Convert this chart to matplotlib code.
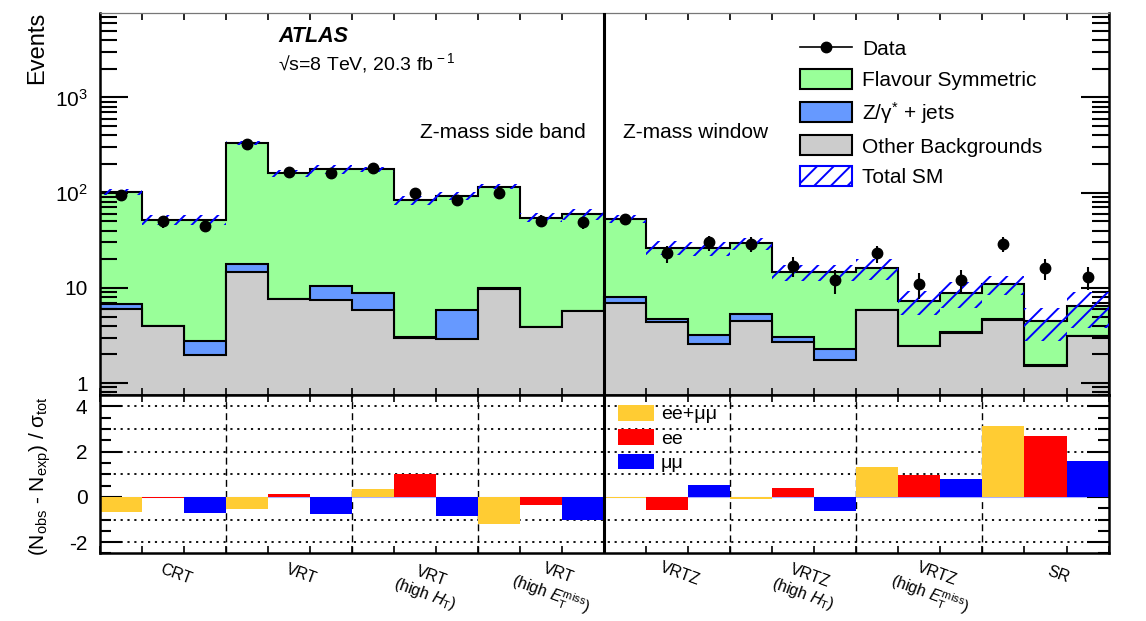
import numpy as np
import matplotlib
matplotlib.use('Agg')
import matplotlib.pyplot as plt
from matplotlib.patches import Patch
from matplotlib.lines import Line2D
from matplotlib.ticker import LogLocator, NullFormatter, MultipleLocator, FixedLocator
import matplotlib.transforms as mtransforms

plt.rcParams['font.family'] = ['Liberation Sans', 'DejaVu Sans']
plt.rcParams['mathtext.fontset'] = 'custom'
plt.rcParams['mathtext.rm'] = 'Liberation Sans'
plt.rcParams['mathtext.it'] = 'Liberation Sans:italic'
plt.rcParams['mathtext.bf'] = 'Liberation Sans:bold'
plt.rcParams['axes.unicode_minus'] = False
plt.rcParams['hatch.linewidth'] = 1.4
plt.rcParams['hatch.color'] = 'blue'

# regions, each split into ee+mumu / ee / mumu
regions = ['CRT', 'VRT', 'VRT\n(high $H_{\\mathrm{T}}$)', 'VRT\n(high $E_{\\mathrm{T}}^{\\mathrm{miss}}$)',
           'VRTZ', 'VRTZ\n(high $H_{\\mathrm{T}}$)', 'VRTZ\n(high $E_{\\mathrm{T}}^{\\mathrm{miss}}$)', 'SR']
channels = ['ee+μμ', 'ee', 'μμ']

data_obs = [95, 50, 45, 324, 164, 160, 182, 99, 83, 100, 51, 49,
            53, 23, 30, 29, 17, 12, 23, 11, 12, 29, 16, 13]
other_bkg = [5.97, 4.0, 1.96, 14.7, 7.6, 7.4, 5.8, 3.0, 2.9, 9.8, 3.9, 5.7,
             6.95, 4.39, 2.56, 4.5, 2.7, 1.73, 5.8, 2.43, 3.36, 4.65, 1.51, 3.1]
zjets = [0.85, 0.02, 0.83, 3.3, 0.1, 3.1, 3.1, 0.05, 2.9, 0.1, 0.03, 0.05,
         1.1, 0.37, 0.64, 0.85, 0.35, 0.57, 0.05, 0.05, 0.05, 0.05, 0.05, 0.05]
flav_sym = [95.7, 47.6, 48.8, 318, 152.3, 165.5, 167.6, 80.8, 87.2, 105.8, 50.7, 54.0,
            44.9, 21.8, 22.8, 24.0, 11.65, 12.4, 10.15, 4.77, 5.45, 6.2, 2.9, 3.25]
sm_err = [7.7, 6.2, 6.2, 17, 13.6, 17.6, 10.6, 9.2, 9.3, 6.9, 6.0, 7.8,
          5.3, 4.5, 4.4, 4.4, 2.8, 2.8, 4.0, 2.0, 2.7, 2.5, 1.7, 2.6]
significance = [-0.66, -0.07, -0.70, -0.53, 0.15, -0.76, 0.37, 1.03, -0.85, -1.2, -0.37, -1.0,
                -0.06, -0.59, 0.54, -0.08, 0.41, -0.62, 1.30, 0.95, 0.78, 3.12, 2.67, 1.60]

col_fs = '#99FF99'
col_z = '#6699FF'
col_other = '#CCCCCC'
chan_colors = ['#FFCC33', '#FF0000', '#0000FF']

edges = np.arange(len(data_obs) + 1)
centers = edges[:-1] + 0.5
other = np.array(other_bkg)
z_top = other + np.array(zjets)
total = z_top + np.array(flav_sym)
err = np.array(sm_err)
obs = np.array(data_obs)

fig = plt.figure(figsize=(11.46, 6.21), dpi=100)
ax1 = fig.add_axes([0.0873, 0.3639, 0.8800, 0.6151])
ax2 = fig.add_axes([0.0873, 0.1087, 0.8800, 0.2552])

# ---- upper panel
ax1.stairs(total, edges, baseline=1e-3, fill=True, facecolor=col_fs, edgecolor='black', linewidth=1.5, zorder=1)
ax1.stairs(z_top, edges, baseline=1e-3, fill=True, facecolor=col_z, edgecolor='black', linewidth=1.5, zorder=1.1)
ax1.stairs(other, edges, baseline=1e-3, fill=True, facecolor=col_other, edgecolor='black', linewidth=1.5, zorder=1.2)
ax1.bar(centers, 2 * err, bottom=total - err, width=1.0, facecolor='none', edgecolor='blue',
        linewidth=0, hatch='//', zorder=3)
ax1.errorbar(centers, obs, yerr=np.sqrt(obs), fmt='o', color='black', ms=7.5,
             elinewidth=1.5, capsize=0, zorder=4)
ax1.axvline(12, color='black', lw=2.2, zorder=5)

ax1.set_yscale('log')
ax1.set_xlim(0, len(data_obs))
ax1.set_ylim(0.75, 7700)
ax1.yaxis.set_major_locator(FixedLocator([1, 10, 100, 1000]))
ax1.set_yticklabels(['1', '10', '$10^{2}$', '$10^{3}$'])
ax1.yaxis.set_minor_locator(LogLocator(subs=np.arange(2, 10), numticks=20))
ax1.yaxis.set_minor_formatter(NullFormatter())
ax1.set_xticks(edges)
ax1.tick_params(axis='x', which='major', direction='in', top=True, bottom=True, length=5,
                width=1.2, labelbottom=False)
ax1.tick_params(axis='y', which='major', direction='in', left=True, right=True, length=20,
                width=1.5, labelsize=15, pad=9)
ax1.tick_params(axis='y', which='minor', direction='in', left=True, right=True, length=12, width=1.5)
for s in ['left', 'right', 'bottom']:
    ax1.spines[s].set_linewidth(1.8)
ax1.spines['top'].set_linewidth(0.9)
ax1.spines['top'].set_color('#777777')

handles = [Line2D([0], [0], color='black', marker='o', ms=7.5, lw=1.2),
           Patch(facecolor=col_fs, edgecolor='black', linewidth=1.5),
           Patch(facecolor=col_z, edgecolor='black', linewidth=1.5),
           Patch(facecolor=col_other, edgecolor='black', linewidth=1.5),
           Patch(facecolor='white', edgecolor='blue', hatch='//', linewidth=1.5)]
labels = ['Data', 'Flavour Symmetric', 'Z/γ$^{*}$ + jets', 'Other Backgrounds', 'Total SM']
ax1.legend(handles, labels, loc='upper left', bbox_to_anchor=(800 / 1146, 1 - 38 / 621),
           bbox_transform=fig.transFigure, frameon=False, borderpad=0, borderaxespad=0,
           handlelength=2.5, handleheight=1.1, handletextpad=0.5, labelspacing=0.47,
           fontsize=15, numpoints=1)

fig.text(278 / 1146, 1 - 36 / 621, 'ATLAS', fontsize=15.5, fontweight='bold', fontstyle='italic', va='center')
fig.text(278 / 1146, 1 - 63 / 621, '√s=8 TeV, 20.3 fb$^{\\,-1}$', fontsize=14, va='center')
fig.text(420 / 1146, 1 - 132 / 621, 'Z-mass side band', fontsize=15, va='center')
fig.text(623 / 1146, 1 - 132 / 621, 'Z-mass window', fontsize=15, va='center')
fig.text(37 / 1146, 1 - 12 / 621, 'Events', fontsize=17, rotation=90, ha='center', va='top')

# ---- lower panel
for y in [-2, -1, 1, 2, 3, 4]:
    ax2.axhline(y, color='black', ls=(0, (1.2, 2.6)), lw=1.3, zorder=1)
for x in [3, 6, 9, 15, 18, 21]:
    ax2.axvline(x, color='black', ls=(0, (5, 3)), lw=1.0, zorder=1)
ax2.axhline(0, color='#aab0ff', lw=0.8, zorder=1)
ax2.bar(centers, significance, width=1.0, color=chan_colors * len(regions), zorder=2)
ax2.axvline(12, color='black', lw=2.2, zorder=5)

ax2.set_xlim(0, len(data_obs))
ax2.set_ylim(-2.5, 4.5)
ax2.set_yticks([-2, 0, 2, 4])
ax2.yaxis.set_minor_locator(MultipleLocator(0.5))
ax2.set_xticks(edges)
ax2.tick_params(axis='x', which='major', direction='in', top=True, bottom=True, length=5,
                width=1.2, labelbottom=False)
ax2.tick_params(axis='y', which='major', direction='in', left=True, right=True, length=16,
                width=1.5, labelsize=15, pad=9)
ax2.tick_params(axis='y', which='minor', direction='in', left=True, right=True, length=8, width=1.5)
for s in ax2.spines.values():
    s.set_linewidth(1.8)

trans = mtransforms.blended_transform_factory(ax2.transData, ax2.transAxes)
for i, name in enumerate(regions):
    yy = -0.205 if '\n' in name else -0.13
    ax2.text(3 * i + 1.5 + 0.3, yy, name, transform=trans, fontsize=11.5, rotation=-20,
             ha='center', va='center', multialignment='center')

chan_handles = [Patch(facecolor=c) for c in chan_colors]
ax2.legend(chan_handles, channels, loc='upper left', bbox_to_anchor=(618 / 1146, 1 - 405 / 621),
           bbox_transform=fig.transFigure, frameon=False, borderpad=0, borderaxespad=0,
           handlelength=1.85, handleheight=0.85, handletextpad=0.35, labelspacing=0.3, fontsize=14)

fig.text(40 / 1146, 1 - 476 / 621,
         '(N$_{\\mathrm{obs}}$ - N$_{\\mathrm{exp}}$) / σ$_{\\mathrm{tot}}$',
         fontsize=15, rotation=90, ha='center', va='center')

fig.savefig('out.png', dpi=100)
